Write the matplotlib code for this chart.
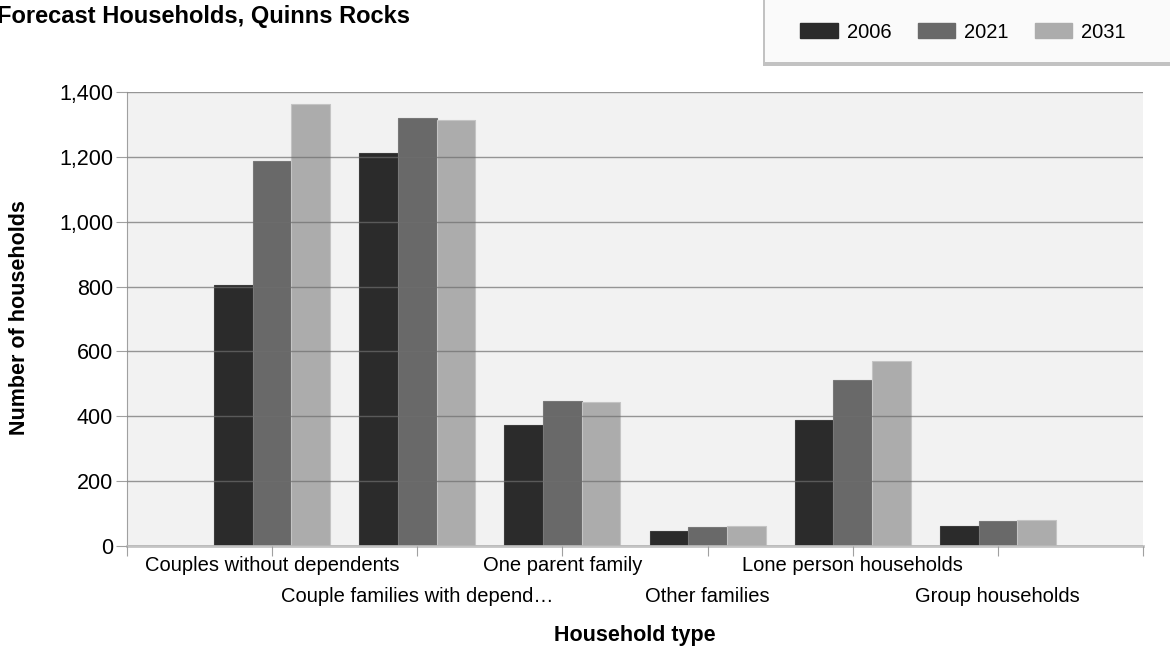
import matplotlib
matplotlib.use('Agg')
import matplotlib.pyplot as plt
import matplotlib.patches as mpatches
from matplotlib.ticker import FuncFormatter
import numpy as np

plt.rcParams['font.family'] = ['Liberation Sans', 'DejaVu Sans']

## Data
categories = ['Couples without dependents', 'Couple families with depend\u2026',
              'One parent family', 'Other families',
              'Lone person households', 'Group households']
years = ['2006', '2021', '2031']
hh_2006 = [805, 1213, 373, 47, 389, 63]
hh_2021 = [1188, 1319, 447, 60, 511, 77]
hh_2031 = [1364, 1313, 445, 63, 570, 80]

colours = ['#2b2b2b', '#696969', '#acacac']
edges = ['#3c3c3c', '#787878', '#c4c4c4']

fig = plt.figure(figsize=(11.7, 6.5), dpi=100)
ax = fig.add_axes([127/1170, 1 - 546/650, 1016/1170, 454/650])
ax.set_facecolor('#f2f2f2')

x = np.arange(len(categories))
w = 0.8 / 3
series = [hh_2006, hh_2021, hh_2031]
for k, vals in enumerate(series):
    ax.bar(x + (k - 1) * w, vals, width=w, color=colours[k],
           edgecolor=edges[k], linewidth=0.8, label=years[k], zorder=2)

ax.set_xlim(-1, 6)
ax.set_ylim(0, 1400)
ax.set_yticks(np.arange(0, 1401, 200))
ax.yaxis.set_major_formatter(FuncFormatter(lambda v, p: f'{int(v):,}'))
ax.set_xticks(np.arange(-1, 7))
ax.set_xticklabels([])

# gridlines sit above the bars, as in the reference
ax.set_axisbelow(False)
ax.grid(axis='y', color='#6e6e6e', alpha=0.7, linewidth=1.0, zorder=3)

for s in ['top', 'right']:
    ax.spines[s].set_visible(False)
ax.spines['left'].set_color('#a0a0a0')
ax.spines['bottom'].set_color('#c4c4c4')
ax.spines['bottom'].set_linewidth(2)
ax.tick_params(axis='y', length=8, color='#a0a0a0', pad=2, labelsize=15.5)
ax.tick_params(axis='x', length=7, color='#a0a0a0')

# category labels on two staggered rows
for i, lab in enumerate(categories):
    off = 14 if i % 2 == 0 else 36
    ax.annotate(lab, xy=(i, 0), xycoords=('data', 'axes fraction'),
                xytext=(0, -off), textcoords='offset points',
                ha='center', va='center', fontsize=14.5, annotation_clip=False)

fig.text(20/1170, 1 - 318/650, 'Number of households', rotation=90,
         ha='center', va='center', fontsize=15.5, fontweight='bold')
fig.text(635/1170, 1 - 636/650, 'Household type',
         ha='center', va='center', fontsize=15.5, fontweight='bold')
fig.text(-3/1170, 1 - 17/650, 'Forecast Households, Quinns Rocks',
         ha='left', va='center', fontsize=17, fontweight='bold')

# legend box with a soft shadow
shadow = mpatches.Rectangle((763/1170, 1 - 66/650), 0.5, 0.2,
                            transform=fig.transFigure, facecolor='#9a9a9a',
                            edgecolor='none', alpha=0.6, zorder=0)
box = mpatches.Rectangle((765/1170, 1 - 62/650), 0.5, 0.2,
                         transform=fig.transFigure, facecolor='#fafafa',
                         edgecolor='none', zorder=1)
fig.patches.extend([shadow, box])

handles = [mpatches.Patch(color=c, label=y) for c, y in zip(colours, years)]
fig.legend(handles=handles, loc='center', ncol=3,
           bbox_to_anchor=(963/1170, 1 - 32/650), frameon=False,
           fontsize=14.5, handlelength=1.85, handleheight=0.8,
           handletextpad=0.45, columnspacing=1.3)

plt.savefig('out.png', dpi=100)
